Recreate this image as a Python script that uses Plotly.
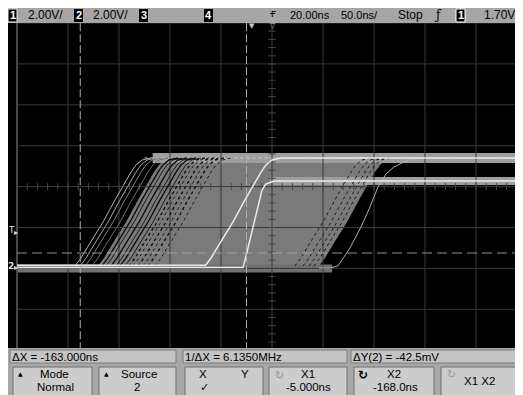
import plotly.graph_objects as go

# ---------------- scope settings (from the status lines) ----------------
TIME_DIV = 50.0      # ns / div
DELAY = 20.0         # ns at screen centre
VOLT_DIV = 2.0       # V / div
OFFSET = 4.0         # V at screen centre
TRIG_LEVEL = 1.70    # V

# ---------------- waveform data ----------------
# generic rising-edge shape: time after edge start (ns) vs volts
EDGE_DT = [0, 5.9, 14.7, 27.5, 39.2, 49.0, 54.9, 59.8, 65.7, 74.5]
EDGE_V = [0.12, 0.51, 1.24, 2.27, 3.35, 4.23, 4.71, 5.06, 5.30, 5.40]

HIGH_A = 5.40        # upper rail
HIGH_B = 4.27        # lower rail
LOW_A = 0.16
LOW_B = 0.04

EDGE_A_START = -45.7                     # bright trace 1
EDGE_B_T = [-8.4, -4.5, 0.4, 5.3, 10.2, 14.1, 22.0]
EDGE_B_V = [0.04, 0.80, 1.78, 2.86, 3.83, 4.13, 4.27]

PERSIST_LEFT = -150.6                    # persistence cloud boundaries
PERSIST_RIGHT = 66.1
TOP_BAND_START = -97.0
LOW_BAND_END = 79.0
DARK_EDGES = [-146.7, -142.7, -137.8, -132.9, -129.0, -124.1, -120.2,
              -116.3, -111.4, -106.5, -101.6, -94.7]
LIGHT_EDGES = [-173.1, -168.2, -163.3, -156.5]
LIGHT_EDGE_GRAY = [175, 165, 125, 110]
RIGHT_DARK_EDGES = [42.5, 50.4, 56.3, 61.2]
LAST_EDGE_T = [66.1, 76.9, 84.7, 96.5, 107.3, 116.1, 123.9, 131.8, 139.6, 149.4, 157.3, 165.1]
LAST_EDGE_V = [0.02, 0.02, 0.12, 1.00, 2.03, 3.01, 3.98, 4.62, 4.96, 5.20, 5.35, 5.40]

X1_CURSOR = -5.0
X2_CURSOR = -168.0
Y_CURSOR = 0.75

# ---------------- geometry helpers (screen pixels, page offset 8px) ----------------
W, H = 523, 395
OFF = 8
def px(x):
    return (x - OFF) / W
def py(y):
    return 1 - (y - OFF) / H

T_LEFT = DELAY - 5 * TIME_DIV
T_RIGHT = DELAY + 5 * TIME_DIV
V_BOT = OFFSET - 4 * VOLT_DIV
V_TOP = OFFSET + 4 * VOLT_DIV
X_MIN = DELAY + (-5 - 9 / 51) * TIME_DIV
X_MAX = DELAY + (5 + 4 / 51) * TIME_DIV

fig = go.Figure()

def line(x, y, color, width=1.0, dash=None, fill=None, fillcolor=None):
    fig.add_trace(go.Scatter(x=x, y=y, mode="lines",
                             line=dict(color=color, width=width, dash=dash),
                             fill=fill, fillcolor=fillcolor,
                             hoverinfo="skip", showlegend=False))

def edge(t0):
    return [t0 + d for d in EDGE_DT], list(EDGE_V)

# persistence cloud
lx, ly = edge(PERSIST_LEFT)
rx, ry = edge(PERSIST_RIGHT)
line(lx + rx[::-1], ly + ry[::-1], "rgba(0,0,0,0)", 0, fill="toself",
     fillcolor="rgb(122,122,122)")

# rails / bands
line([TOP_BAND_START, X_MAX], [HIGH_A, HIGH_A], "rgb(158,158,158)", 10)
line([EDGE_B_T[-1] - 4, X_MAX], [HIGH_B, HIGH_B], "rgb(158,158,158)", 8)
line([T_LEFT, LOW_BAND_END], [0.0, 0.0], "rgb(112,112,112)", 8)
line([TOP_BAND_START - 8, X_MAX], [HIGH_A, HIGH_A], "rgb(205,205,205)", 1, dash="dot")

# graticule
gx, gy = [], []
for k in range(-5, 6):
    t = DELAY + k * TIME_DIV
    gx += [t, t, None]
    gy += [V_BOT, V_TOP, None]
for k in range(-4, 5):
    v = OFFSET + k * VOLT_DIV
    gx += [T_LEFT, T_RIGHT, None]
    gy += [v, v, None]
line(gx, gy, "rgb(58,58,58)", 1)
line([T_LEFT, T_LEFT], [V_BOT, V_TOP], "rgb(95,95,95)", 1.3)
fig.add_trace(go.Scatter(x=[DELAY + i * TIME_DIV / 5 for i in range(-25, 26)],
                         y=[OFFSET] * 51, mode="markers",
                         marker=dict(symbol="line-ns", size=5,
                                     line=dict(color="rgb(70,70,70)", width=1)),
                         hoverinfo="skip", showlegend=False))
fig.add_trace(go.Scatter(x=[DELAY] * 41, y=[V_BOT + i * VOLT_DIV / 5 for i in range(41)],
                         mode="markers",
                         marker=dict(symbol="line-ew", size=5,
                                     line=dict(color="rgb(70,70,70)", width=1)),
                         hoverinfo="skip", showlegend=False))

# dark edges inside the cloud
for i, t0 in enumerate(DARK_EDGES):
    x, y = edge(t0)
    line(x, y, "rgb(15,15,15)", 1.4 if i % 2 == 0 else 0.9,
         dash=None if i < 6 else "dot")
for t0 in RIGHT_DARK_EDGES:
    x, y = edge(t0)
    line(x, y, "rgb(25,25,25)", 1.0, dash="dot")

# early light edges
for t0, g in zip(LIGHT_EDGES, LIGHT_EDGE_GRAY):
    x, y = edge(t0)
    line(x, y, "rgb(%d,%d,%d)" % (g, g, g), 1)

# last (right-most) edge
line(LAST_EDGE_T, LAST_EDGE_V, "rgb(175,175,175)", 1)

# bright traces
ax, ay = edge(EDGE_A_START)
line([T_LEFT] + [EDGE_A_START] + ax + [X_MAX],
     [LOW_A, LOW_A] + ay + [HIGH_A], "rgb(235,235,235)", 1.5)
line([T_LEFT] + EDGE_B_T + [X_MAX],
     [LOW_B] + EDGE_B_V + [HIGH_B], "rgb(235,235,235)", 1.5)

# cursors
line([T_LEFT, X_MAX], [Y_CURSOR, Y_CURSOR], "rgba(175,175,175,0.55)", 1.5, dash="10px,5px")
for xc in (X1_CURSOR, X2_CURSOR):
    line([xc, xc], [V_BOT, V_TOP], "rgb(175,175,175)", 1, dash="8px,3px")

FONT = "Liberation Sans, Arial, sans-serif"

def rect(x0, y0, x1, y1, fill, border=None, bw=1):
    fig.add_shape(type="rect", xref="paper", yref="paper",
                  x0=px(x0), x1=px(x1), y0=py(y1), y1=py(y0),
                  fillcolor=fill, line=dict(color=border or fill, width=bw if border else 0),
                  layer="above")

def txt(x, y, s, size=12, color="black", anchor="left", family=FONT):
    fig.add_annotation(x=px(x), y=py(y), xref="paper", yref="paper", text=s,
                       showarrow=False, xanchor=anchor, yanchor="middle",
                       font=dict(size=size, color=color, family=family))

# top status bar
rect(7, 7, 531, 23, "rgb(166,166,166)")
for x0, d in [(8, "1"), (74, "2"), (139, "3"), (204, "4")]:
    rect(x0, 9, x0 + 9, 22, "black", "rgb(230,230,230)" if d == "1" else None)
    txt(x0 + 4.5, 15.5, "<b>%s</b>" % d, 11, "white", "center")
txt(26, 15, "2.00V/")
txt(91, 15, "2.00V/")
txt(288, 15, "20.00ns", 11)
txt(339, 15, "50.0ns/", 11)
txt(396, 15, "Stop")
txt(438, 15, "ƒ", 12, "black", "center", "DejaVu Serif")
rect(456, 9, 465, 22, "black", "white")
txt(460.5, 15.5, "<b>1</b>", 11, "white", "center")
txt(482, 15, "1.70V")
txt(273, 14, "ғ", 11, "black", "center", "DejaVu Sans")
txt(252, 25.5, "▼", 7, "rgb(200,200,200)", "center", "DejaVu Sans")
txt(273, 25.5, "▽", 7, "rgb(200,200,200)", "center", "DejaVu Sans")

# left-hand markers
txt(11.5, 230, "T", 9, "rgb(220,220,220)", "center", "DejaVu Sans")
txt(15.5, 232, "▸", 8, "rgb(220,220,220)", "center", "DejaVu Sans")
txt(10.5, 266, "<b>2</b>", 9, "rgb(220,220,220)", "center", "DejaVu Sans")
txt(15.5, 267, "▸", 8, "rgb(220,220,220)", "center", "DejaVu Sans")

# bottom area
rect(7, 348, 531, 403, "rgb(168,168,168)")
rect(10, 350, 176, 363, "rgb(196,196,196)", "rgb(125,125,125)")
rect(183, 350, 347, 363, "rgb(196,196,196)", "rgb(125,125,125)")
rect(351, 350, 521, 363, "rgb(196,196,196)", "rgb(125,125,125)")
txt(10, 356.5, "ΔX = -163.000ns", 11.5)
txt(183, 356.5, "1/ΔX = 6.1350MHz", 11.5)
txt(351, 356.5, "ΔY(2) = -42.5mV", 11.5)

for x0, x1 in [(13, 92), (99, 176), (185, 263), (269, 347), (354, 434), (441, 519)]:
    rect(x0, 367, x1, 396, "rgb(204,204,204)", "rgb(110,110,110)")

BS = 11.5
txt(20, 373, "▲", 6, "black", "center", "DejaVu Sans")
txt(54, 374, "Mode", BS, "black", "center")
txt(55, 386.5, "Normal", BS, "black", "center")
txt(106, 373, "▲", 6, "black", "center", "DejaVu Sans")
txt(139, 374, "Source", BS, "black", "center")
txt(137, 386.5, "2", BS, "black", "center")
txt(203, 374, "X", BS, "black", "center")
txt(245, 374, "Y", BS, "black", "center")
txt(204, 387, "✓", 11, "black", "center", "DejaVu Sans")
txt(279, 375, "↻", 11, "rgb(150,150,150)", "center", "DejaVu Sans")
txt(308, 374, "X1", BS, "black", "center")
txt(308, 386.5, "-5.000ns", BS, "black", "center")
txt(363, 375, "<b>↻</b>", 12, "black", "center", "DejaVu Sans")
txt(394, 374, "X2", BS, "black", "center")
txt(395, 386.5, "-168.0ns", BS, "black", "center")
txt(451, 374, "↻", 11, "rgb(150,150,150)", "center", "DejaVu Sans")
txt(479, 380.5, "X1 X2", BS, "black", "center")

fig.update_layout(
    width=W, height=H, margin=dict(l=0, r=0, t=0, b=0),
    paper_bgcolor="black", plot_bgcolor="black", showlegend=False,
    xaxis=dict(domain=[0, 1], range=[X_MIN, X_MAX], visible=False, fixedrange=True),
    yaxis=dict(domain=[py(350.2), py(23)], range=[V_BOT, V_TOP], visible=False, fixedrange=True),
)
fig.write_html("out.html")
